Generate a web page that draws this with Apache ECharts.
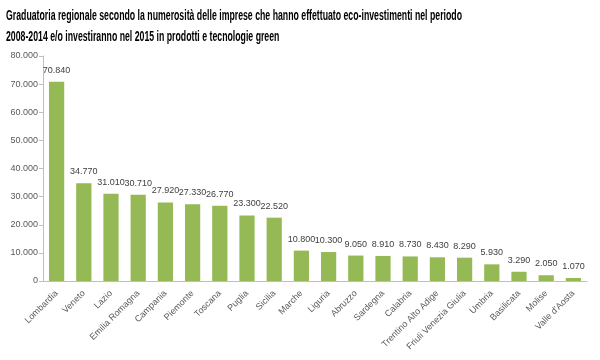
<!DOCTYPE html>
<html><head><meta charset="utf-8">
<script src="https://cdn.jsdelivr.net/npm/echarts@6/dist/echarts.min.js"></script>
<style>html,body{margin:0;padding:0;background:#fff}#c{width:600px;height:360px}</style>
</head><body><div id="c"></div>
<script>
var categories = ["Lombardia","Veneto","Lazio","Emilia Romagna","Campania","Piemonte","Toscana","Puglia","Sicilia","Marche","Liguria","Abruzzo","Sardegna","Calabria","Trentino Alto Adige","Friuli Venezia Giulia","Umbria","Basilicata","Molise","Valle d'Aosta"];
var values = [70840,34770,31010,30710,27920,27330,26770,23300,22520,10800,10300,9050,8910,8730,8430,8290,5930,3290,2050,1070];
var titleLines = ["Graduatoria regionale secondo la numerosità delle imprese che hanno effettuato eco-investimenti nel periodo","2008-2014 e/o investiranno nel 2015 in prodotti e tecnologie green"];

var FONT = "Liberation Sans, Arial, sans-serif";
function fmt(v){ if(v===0) return "0"; var s=String(Math.round(v)); return s.replace(/\B(?=(\d{3})+(?!\d))/g,"."); }

// condense title to match the narrow font of the original
var cv = document.createElement('canvas').getContext('2d');
cv.font = "bold 14px " + FONT;
var w1 = cv.measureText(titleLines[0]).width;
var sx = 456 / w1;

var chart = echarts.init(document.getElementById('c'));
chart.setOption({
  animation:false,
  graphic:[
    {type:"text",left:6,top:9,scaleX:sx,originX:0,style:{text:titleLines[0],font:"bold 14px " + FONT,fill:"#000"}},
    {type:"text",left:6,top:30,scaleX:sx,originX:0,style:{text:titleLines[1],font:"bold 14px " + FONT,fill:"#000"}}
  ],
  grid:{left:43,right:13,top:56,bottom:79,containLabel:false},
  xAxis:{type:"category",data:categories,
    axisLine:{lineStyle:{color:"#bfbfbf"}},axisTick:{show:false},
    axisLabel:{rotate:45,interval:0,fontSize:9,color:"#595959",fontFamily:FONT,margin:11}},
  yAxis:{type:"value",min:0,max:80000,interval:10000,
    axisLine:{show:true,lineStyle:{color:"#bfbfbf"}},axisTick:{show:true,length:4,lineStyle:{color:"#bfbfbf"}},
    splitLine:{show:false},
    axisLabel:{fontSize:9,color:"#595959",fontFamily:FONT,margin:5,formatter:function(v){return fmt(v);}}},
  series:[{type:"bar",data:values,barCategoryGap:"44%",itemStyle:{color:"#95ba55"},
    label:{show:true,position:"top",distance:7,fontSize:9,color:"#404040",fontFamily:FONT,formatter:function(p){return fmt(p.value);}}}]
});
</script></body></html>
